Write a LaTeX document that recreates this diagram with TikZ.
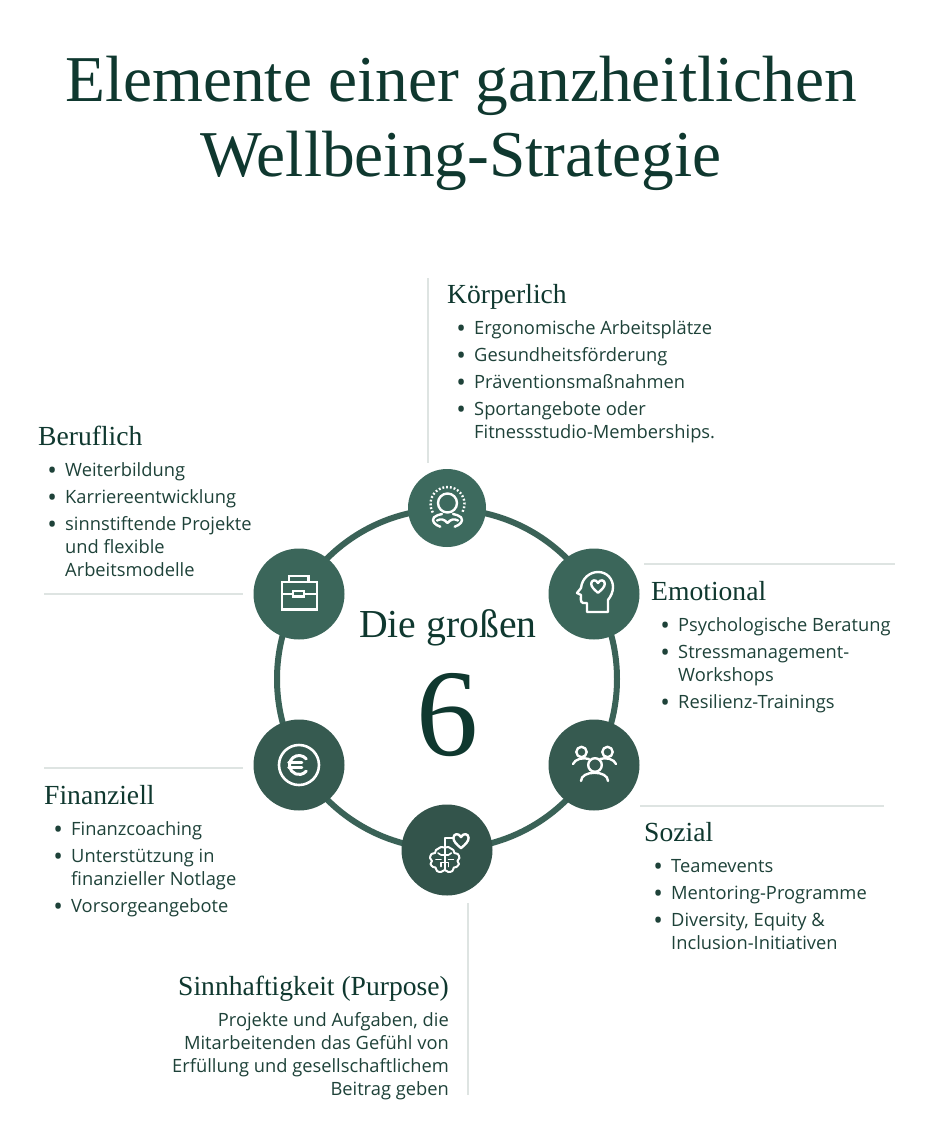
\documentclass[tikz,border=0pt]{standalone}
\usepackage{xcolor}
\usepackage{fontspec}
\setmainfont{Liberation Serif}
\setsansfont{Open Sans}
\usepackage{tikz}
\usetikzlibrary{positioning}
\definecolor{ink}{RGB}{15, 56, 47}
\definecolor{bodyink}{RGB}{30, 66, 57}
\definecolor{ringgreen}{RGB}{58, 98, 87}
\definecolor{rulegrey}{RGB}{222, 228, 226}
\definecolor{badgeA}{RGB}{61, 106, 94}
\definecolor{badgeB}{RGB}{59, 102, 90}
\definecolor{badgeC}{RGB}{54, 90, 80}
\definecolor{badgeD}{RGB}{51, 84, 75}
\tikzstyle{badge} = [circle, inner sep=0pt, draw=none]
\tikzstyle{icon} = [draw=white, line width=2.4pt, line cap=round, line join=round]
\tikzstyle{rule} = [draw=rulegrey, line width=1.5pt]
\tikzstyle{headline} = [inner sep=0pt, anchor=base west, text=ink, font=\rmfamily\fontsize{27.6}{30}\selectfont]
\tikzstyle{points} = [inner sep=0pt, anchor=north west, align=left, text=bodyink, font=\sffamily\fontsize{18.3}{23}\selectfont]
\newcommand{\bl}{\makebox[17pt][l]{\hspace{-0.8pt}\raisebox{-3.6pt}{\scalebox{1.4}{\textbullet}}}}
\newcommand{\cont}{\hspace*{17pt}}
\newcommand{\iconheart}[3]{
    \begin{scope}[shift={(#1,#2)}, scale=#3]
        \draw[icon] (0,1) .. controls (-0.6,0.5) and (-1,0.1) .. (-1,-0.35) .. controls (-1,-0.9) and (-0.3,-1.05) .. (0,-0.45)
            .. controls (0.3,-1.05) and (1,-0.9) .. (1,-0.35) .. controls (1,0.1) and (0.6,0.5) .. (0,1) -- cycle;
    \end{scope}
}
\begin{document}
\begin{tikzpicture}[x=1pt, y=-1pt]
    \useasboundingbox[fill=white] (0,0) rectangle (945,1144);

    % Title
    \node[text=ink, align=center, inner sep=0pt, font=\rmfamily\fontsize{65.4}{75}\selectfont] (title) at (461,123) {Elemente einer ganzheitlichen\\Wellbeing-Strategie};

    % Ring and badges
    \node[circle, draw=ringgreen, line width=6pt, minimum size=340pt, inner sep=0pt] (ring) at (447,679) {};
    \node[badge, fill=badgeA, minimum size=78pt] (koerper) at (447,508) {};
    \node[badge, fill=badgeB, minimum size=91pt] (emotion) at (594,594) {};
    \node[badge, fill=badgeB, minimum size=91pt] (beruf) at (299,594) {};
    \node[badge, fill=badgeC, minimum size=91pt] (sozial) at (594,765) {};
    \node[badge, fill=badgeC, minimum size=91pt] (finanz) at (299,765) {};
    \node[badge, fill=badgeD, minimum size=91pt] (sinn) at (447,850) {};

    % Centre
    \node[anchor=base, inner sep=0pt, text=ink, font=\rmfamily\fontsize{39.7}{44}\selectfont] (grossen) at (448,637) {Die großen};
    \node[anchor=base, inner sep=0pt, text=ink, font=\rmfamily\fontsize{124}{130}\selectfont] (six) at (447,755) {6};

    % Rules
    \draw[rule] (428,278) -- (428,463);
    \draw[rule] (44,594) -- (243,594);
    \draw[rule] (644,564) -- (895,564);
    \draw[rule] (44,768) -- (243,768);
    \draw[rule] (640,806) -- (884,806);
    \draw[rule] (468,903) -- (468,1095);

    % Koerperlich icon
    \begin{scope}[shift={(koerper.center)}]
        \draw[icon] (0.5,-5) circle (9.5);
        \draw[icon, line cap=butt, dash pattern=on 1.8pt off 2pt] (0.5,-4) ++(150:17) arc[start angle=150, end angle=390, radius=17];
        \draw[icon] (-6.7,18.7) .. controls (-12,17) and (-16,13) .. (-13,9.3) .. controls (-11,7.5) and (-8,6.5) .. (-5,6);
        \draw[icon] (7.7,18.7) .. controls (13,17) and (17,13) .. (14,9.3) .. controls (12,7.5) and (9,6.5) .. (6,6);
        \draw[icon] (-10,12.5) .. controls (-6,10.5) and (-3,11) .. (0.5,15) .. controls (4,11) and (7,10.5) .. (11,12.5);
    \end{scope}

    % Emotional icon
    \begin{scope}[shift={(emotion.center)}]
        \draw[icon] (-7,18) -- (-7,9) -- (-11,9) .. controls (-14,8) and (-13,4) .. (-13,1) -- (-17,-1) -- (-13,-6)
            .. controls (-12,-16) and (-4,-22) .. (4,-22) .. controls (13,-22) and (19,-15) .. (19,-7)
            .. controls (19,-2) and (17,2) .. (14,6) -- (14,18) -- cycle;
        \iconheart{4}{-8}{6.8}
    \end{scope}

    % Beruflich icon
    \begin{scope}[shift={(beruf.center)}]
        \draw[icon, line cap=butt, line join=miter] (-17.3,-12) rectangle (17.7,15.5);
        \draw[icon, line cap=butt, line join=miter] (-10,-12) -- (-10,-18) -- (9.5,-18) -- (9.5,-12);
        \draw[icon, line cap=butt] (-17.3,0) -- (-6,0);
        \draw[icon, line cap=butt] (5,0) -- (17.7,0);
        \draw[icon, line cap=butt, line join=miter] (-6,-3) rectangle (5,2.5);
    \end{scope}

    % Finanziell icon
    \begin{scope}[shift={(finanz.center)}]
        \draw[icon, line width=2.6pt] (0,0) circle (20);
        \draw[icon, line width=3pt] (0,0) ++(-40:9.5) arc[start angle=-40, end angle=-320, radius=9.5];
        \draw[icon, line width=2.5pt] (-10.5,-2.5) -- (3,-2.5);
        \draw[icon, line width=2.5pt] (-10.5,2.5) -- (3,2.5);
    \end{scope}

    % Sozial icon
    \begin{scope}[shift={(sozial.center)}]
        \draw[icon] (1,0) circle (6.8);
        \draw[icon] (-13,16) .. controls (-13,5) and (14,5) .. (14,16);
        \draw[icon] (-12.5,-13) circle (5.2);
        \draw[icon] (13.5,-13) circle (5.2);
        \draw[icon] (-21,-1) .. controls (-19,-6) and (-11,-8) .. (-5,-6);
        \draw[icon] (22,-1) .. controls (20,-6) and (12,-8) .. (6,-6);
    \end{scope}

    % Sinnhaftigkeit icon
    \begin{scope}[shift={(sinn.center)}]
        \draw[icon, line width=2pt] plot[smooth cycle, tension=0.55] coordinates {(-2.3,-2.5) (-6,-3) (-8.5,-1.5) (-11,0) (-12,3) (-15.5,4) (-17,8) (-15,11) (-16.5,14) (-14,17) (-11.5,17.5) (-10,21) (-6,22) (-2.3,20) (1.4,22) (5.4,21) (6.9,17.5) (9.4,17) (11.9,14) (10.4,11) (12.4,8) (10.9,4) (7.4,3) (6.4,0) (3.9,-1.5) (1.4,-3)};
        \draw[icon, line width=2pt] (-2.3,20) -- (-2.3,-12) -- (6,-12);
        \draw[icon, line width=1.6pt] (-2.3,5) -- (-6,5) -- (-9,3);
        \draw[icon, line width=1.6pt] (-2.3,5) -- (1.4,5) -- (4.4,3);
        \draw[icon, line width=1.6pt] (-6,9.5) -- (-11,9.5);
        \draw[icon, line width=1.6pt] (1.4,9.5) -- (6.4,9.5);
        \draw[icon, line width=1.6pt] (-2.3,12.5) -- (-6,12.5) -- (-6,16.5);
        \draw[icon, line width=1.6pt] (-2.3,12.5) -- (1.4,12.5) -- (1.4,16.5);
        \iconheart{14}{-9.5}{7.6}
    \end{scope}

    % Koerperlich
    \node[headline] (koerperhead) at (447,303) {Körperlich};
    \node[points] (koerperlist) at (457,320) {\bl Ergonomische Arbeitsplätze\\[4pt]\bl Gesundheitsförderung\\[4pt]\bl Präventionsmaßnahmen\\[4pt]\bl Sportangebote oder\\\cont Fitnessstudio-Memberships.};

    % Beruflich
    \node[headline] (berufhead) at (38,445) {Beruflich};
    \node[points] (beruflist) at (48,462) {\bl Weiterbildung\\[4pt]\bl Karriereentwicklung\\[4pt]\bl sinnstiftende Projekte\\\cont und flexible\\\cont Arbeitsmodelle};

    % Emotional
    \node[headline] (emotionhead) at (651,600) {Emotional};
    \node[points] (emotionlist) at (661,617) {\bl Psychologische Beratung\\[4pt]\bl Stressmanagement-\\\cont Workshops\\[4pt]\bl Resilienz-Trainings};

    % Sozial
    \node[headline] (sozialhead) at (644,841) {Sozial};
    \node[points] (soziallist) at (654,859) {\bl Teamevents\\[4pt]\bl Mentoring-Programme\\[4pt]\bl Diversity, Equity \&\\\cont Inclusion-Initiativen};

    % Finanziell
    \node[headline] (finanzhead) at (44,804) {Finanziell};
    \node[points] (finanzlist) at (54,821) {\bl Finanzcoaching\\[4pt]\bl Unterstützung in\\\cont finanzieller Notlage\\[4pt]\bl Vorsorgeangebote};

    % Sinnhaftigkeit
    \node[headline, anchor=base east] (sinnhead) at (449,995) {Sinnhaftigkeit (Purpose)};
    \node[points, anchor=north east, align=right] (sinnlist) at (449,1012) {Projekte und Aufgaben, die\\Mitarbeitenden das Gefühl von\\Erfüllung und gesellschaftlichem\\Beitrag geben};
\end{tikzpicture}
\end{document}
